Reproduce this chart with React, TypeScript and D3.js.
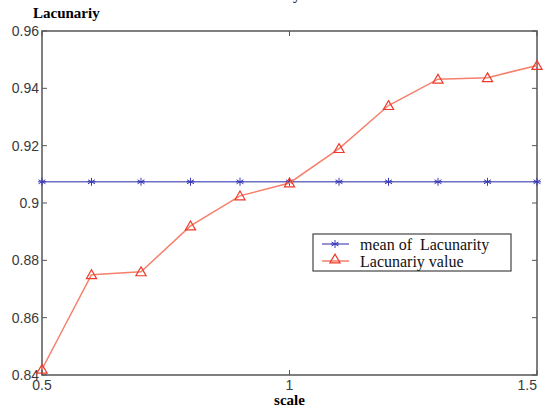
import { useEffect, useRef } from "react";
import * as d3 from "d3";

// scale values on the x axis
const scales = [0.5, 0.6, 0.7, 0.8, 0.9, 1.0, 1.1, 1.2, 1.3, 1.4, 1.5];
// lacunarity
const lacunarity = [0.842, 0.875, 0.876, 0.892, 0.9025, 0.907, 0.919, 0.934, 0.9432, 0.9437, 0.948];
// mean of lacunarity, drawn flat
const meanLacunarity = [0.9074, 0.9074, 0.9074, 0.9074, 0.9074, 0.9074, 0.9074, 0.9074, 0.9074, 0.9074, 0.9074];
const xTicks = [0.5, 1, 1.5];
const yTicks = [0.84, 0.86, 0.88, 0.9, 0.92, 0.94, 0.96];
const legendLabels = ["mean of  Lacunarity", "Lacunariy value"];

const width = 543;
const height = 408;

const App = () => {
  const ref = useRef<SVGSVGElement>(null);

  useEffect(() => {
    document.body.style.margin = "0";
    const svg = d3.select(ref.current);
    svg.selectAll("*").remove();

    const marginLeft = 42, marginRight = 6, marginTop = 31, marginBottom = 33;
    const x = d3.scaleLinear([0.5, 1.5], [marginLeft, width - marginRight]);
    const y = d3.scaleLinear([0.84, 0.96], [height - marginBottom, marginTop]);
    const axisColor = "#555";
    const tickLen = 5;
    const sans = "'Liberation Sans', Arial, sans-serif";
    const serif = "'Liberation Serif', 'Times New Roman', serif";

    // box
    svg.append("rect")
      .attr("x", x(0.5)).attr("y", y(0.96))
      .attr("width", x(1.5) - x(0.5)).attr("height", y(0.84) - y(0.96))
      .attr("fill", "none").attr("stroke", axisColor).attr("stroke-width", 1.5);

    // y ticks (inward on both sides)
    const yt = svg.append("g").attr("stroke", axisColor).attr("stroke-width", 1);
    yTicks.forEach((v) => {
      yt.append("line").attr("x1", x(0.5)).attr("x2", x(0.5) + tickLen).attr("y1", y(v)).attr("y2", y(v));
      yt.append("line").attr("x1", x(1.5)).attr("x2", x(1.5) - tickLen).attr("y1", y(v)).attr("y2", y(v));
    });
    svg.append("g")
      .selectAll("text")
      .data(yTicks)
      .join("text")
      .attr("x", x(0.5) - 3)
      .attr("y", (d) => y(d))
      .attr("dy", "0.35em")
      .attr("text-anchor", "end")
      .attr("font-family", sans)
      .attr("font-size", 14)
      .attr("fill", "#3a3a3a")
      .text((d) => d3.format("")(+d.toFixed(2)));

    // x ticks
    const xt = svg.append("g").attr("stroke", axisColor).attr("stroke-width", 1);
    xTicks.forEach((v) => {
      xt.append("line").attr("x1", x(v)).attr("x2", x(v)).attr("y1", y(0.84)).attr("y2", y(0.84) - tickLen);
      xt.append("line").attr("x1", x(v)).attr("x2", x(v)).attr("y1", y(0.96)).attr("y2", y(0.96) + tickLen);
    });
    svg.append("g")
      .selectAll("text")
      .data(xTicks)
      .join("text")
      .attr("x", (d) => x(d))
      .attr("y", y(0.84) + 15)
      .attr("text-anchor", (d) => (d === 1.5 ? "end" : "middle"))
      .attr("font-family", sans)
      .attr("font-size", 14)
      .attr("fill", "#3a3a3a")
      .text((d) => String(d));

    // labels
    svg.append("text").attr("x", 33).attr("y", 18)
      .attr("font-family", serif).attr("font-weight", "bold").attr("font-size", 15)
      .text("Lacunariy");
    svg.append("text").attr("x", x(1)).attr("y", 405).attr("text-anchor", "middle")
      .attr("font-family", serif).attr("font-weight", "bold").attr("font-size", 15)
      .text("scale");
    // cut-off title at the very top
    svg.append("text").attr("x", 297).attr("y", -1).attr("text-anchor", "middle")
      .attr("font-family", serif).attr("font-size", 16)
      .text("y");

    const line = d3.line<number>()
      .x((_, i) => x(scales[i]))
      .y((d) => y(d));

    const meanColor = "#6f6fc8";
    const valColor = "#f5806c";

    // mean line
    svg.append("path").attr("d", line(meanLacunarity))
      .attr("fill", "none").attr("stroke", meanColor).attr("stroke-width", 1.5);
    const star = (g: d3.Selection<SVGGElement, unknown, null, undefined>, cx: number, cy: number) => {
      const r = 4;
      [0, 60, 120].forEach((a) => {
        const rad = (a * Math.PI) / 180;
        g.append("line")
          .attr("x1", cx - r * Math.sin(rad)).attr("y1", cy - r * Math.cos(rad))
          .attr("x2", cx + r * Math.sin(rad)).attr("y2", cy + r * Math.cos(rad));
      });
      g.append("line").attr("x1", cx - r).attr("x2", cx + r).attr("y1", cy).attr("y2", cy);
    };
    const stars = svg.append("g").attr("stroke", "#3a3ab8").attr("stroke-width", 1);
    meanLacunarity.forEach((v, i) => star(stars, x(scales[i]), y(v)));

    // value line
    svg.append("path").attr("d", line(lacunarity))
      .attr("fill", "none").attr("stroke", valColor).attr("stroke-width", 1.5);
    const tri = d3.symbol(d3.symbolTriangle, 45);
    svg.append("g")
      .selectAll("path")
      .data(lacunarity)
      .join("path")
      .attr("transform", (d, i) => `translate(${x(scales[i])},${y(d) + 1})`)
      .attr("d", tri())
      .attr("fill", "none")
      .attr("stroke", "#ee3a2a")
      .attr("stroke-width", 1.2);

    // legend
    const lx = 313, ly = 234, lw = 198, lh = 37;
    svg.append("rect").attr("x", lx).attr("y", ly).attr("width", lw).attr("height", lh)
      .attr("fill", "white").attr("stroke", "#444").attr("stroke-width", 1.2);
    const rows = [ly + 10, ly + 27];
    svg.append("line").attr("x1", lx + 9).attr("x2", lx + 36).attr("y1", rows[0]).attr("y2", rows[0])
      .attr("stroke", meanColor).attr("stroke-width", 1.5);
    const ls = svg.append("g").attr("stroke", "#3a3ab8").attr("stroke-width", 1);
    star(ls, lx + 22, rows[0]);
    svg.append("line").attr("x1", lx + 9).attr("x2", lx + 36).attr("y1", rows[1]).attr("y2", rows[1])
      .attr("stroke", valColor).attr("stroke-width", 1.5);
    svg.append("path").attr("transform", `translate(${lx + 22},${rows[1] - 1})`).attr("d", tri())
      .attr("fill", "none").attr("stroke", "#ee3a2a").attr("stroke-width", 1.2);
    svg.append("g")
      .selectAll("text")
      .data(legendLabels)
      .join("text")
      .attr("x", lx + 47)
      .attr("y", (_, i) => rows[i])
      .attr("dy", "0.35em")
      .attr("font-family", serif)
      .attr("font-size", 16)
      .attr("fill", "#111")
      .style("white-space", "pre")
      .text((d) => d);
  }, []);

  return <svg ref={ref} width={width} height={height} style={{ display: "block", background: "white" }} />;
};

export default App;
